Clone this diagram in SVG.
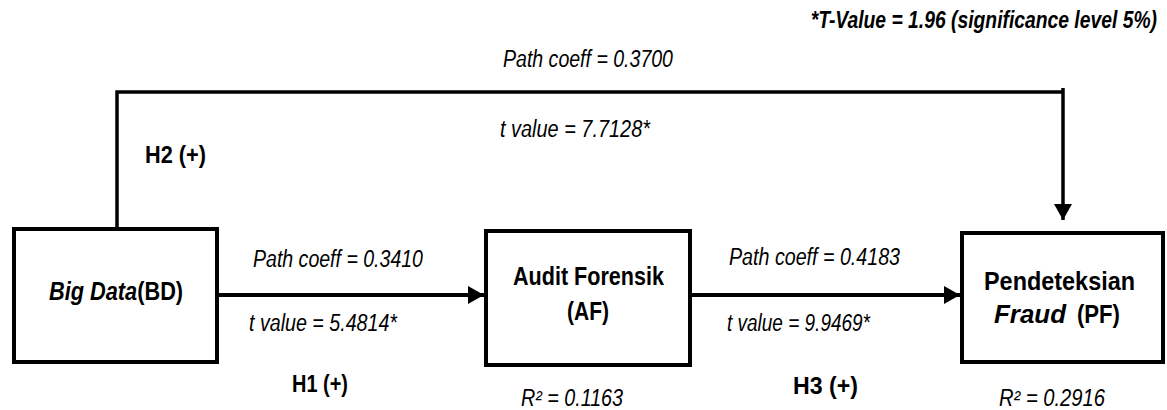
<svg xmlns="http://www.w3.org/2000/svg" width="1167" height="410" viewBox="0 0 1167 410">
<style>
text{font-family:"Liberation Sans",Arial,sans-serif;fill:#000}
.lbl{font-size:23px;font-style:italic}
.hyp{font-size:23px;font-weight:bold}
.node{font-size:25px;font-weight:bold}
.box{fill:#fff;stroke:#000;stroke-width:4}
.ln{fill:none;stroke:#000}
</style>
<defs>
<marker id="ah" markerWidth="16" markerHeight="18" refX="16" refY="9" orient="auto" markerUnits="userSpaceOnUse">
<path d="M0,0 L16,9 L0,18 Z" fill="#000"/>
</marker>
</defs>
<rect width="1167" height="410" fill="#fff"/>
<text transform="translate(1157,28) scale(0.84,1)" text-anchor="end" class="lbl" font-size="22" font-weight="bold">*T-Value = 1.96 (significance level 5%)</text>
<g id="connectors">
<path class="ln" stroke-width="3.5" d="M117,228 V92 H1063" />
<path class="ln" stroke-width="3.5" d="M1063,88 V220" marker-end="url(#ah)"/>
<path class="ln" stroke-width="4" d="M219,295 H484" marker-end="url(#ah)"/>
<path class="ln" stroke-width="4" d="M692,295 H960" marker-end="url(#ah)"/>
</g>
<g id="labels">
<text x="503" y="67" class="lbl" textLength="170" lengthAdjust="spacingAndGlyphs">Path coeff = 0.3700</text>
<text x="500" y="137" class="lbl" textLength="150" lengthAdjust="spacingAndGlyphs">t value = 7.7128*</text>
<text x="145" y="163" class="hyp" textLength="61" lengthAdjust="spacingAndGlyphs">H2 (+)</text>
<text x="253" y="267" class="lbl" textLength="170" lengthAdjust="spacingAndGlyphs">Path coeff = 0.3410</text>
<text x="249" y="331" class="lbl" textLength="148" lengthAdjust="spacingAndGlyphs">t value = 5.4814*</text>
<text x="729" y="265" class="lbl" textLength="171" lengthAdjust="spacingAndGlyphs">Path coeff = 0.4183</text>
<text x="727" y="331" class="lbl" textLength="143" lengthAdjust="spacingAndGlyphs">t value = 9.9469*</text>
<text x="292" y="392" class="hyp" textLength="56" lengthAdjust="spacingAndGlyphs">H1 (+)</text>
<text x="793" y="394" class="hyp" textLength="65" lengthAdjust="spacingAndGlyphs">H3 (+)</text>
<text x="521" y="406" class="lbl" textLength="102" lengthAdjust="spacingAndGlyphs">R²  = 0.1163</text>
<text x="999" y="406" class="lbl" textLength="106" lengthAdjust="spacingAndGlyphs">R²  = 0.2916</text>
</g>
<g id="BD">
<rect class="box" x="14" y="229" width="203" height="133"/>
<text transform="translate(49,300) scale(0.87,1)" class="node"><tspan font-style="italic">Big Data</tspan>(BD)</text>
</g>
<g id="AF">
<rect class="box" x="486" y="231" width="204" height="134"/>
<text x="513" y="285" class="node" textLength="151" lengthAdjust="spacingAndGlyphs">Audit Forensik</text>
<text x="567" y="320" class="node" textLength="42" lengthAdjust="spacingAndGlyphs">(AF)</text>
</g>
<g id="PF">
<rect class="box" x="962" y="233" width="201" height="129"/>
<text x="984" y="290" class="node" textLength="151" lengthAdjust="spacingAndGlyphs">Pendeteksian</text>
<text x="994" y="323" class="node" font-style="italic" textLength="72" lengthAdjust="spacingAndGlyphs">Fraud</text>
<text x="1077" y="323" class="node" textLength="43" lengthAdjust="spacingAndGlyphs">(PF)</text>
</g>
</svg>
